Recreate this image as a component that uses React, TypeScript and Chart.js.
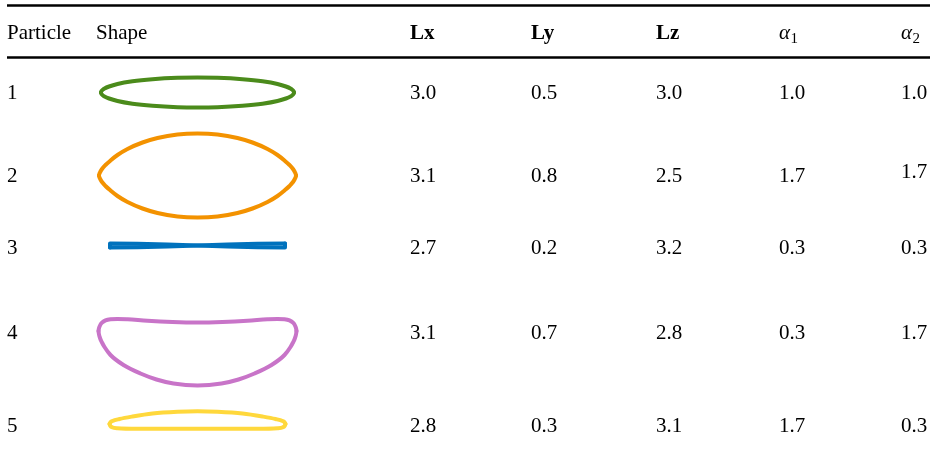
import React, { useEffect, useRef } from 'react';
import { Chart, registerables } from 'chart.js';

Chart.register(...registerables);

// ---------- table data ----------
const particles = ['1', '2', '3', '4', '5'];
const lxValues = [3.0, 3.1, 2.7, 3.1, 2.8];
const lyValues = [0.5, 0.8, 0.2, 0.7, 0.3];
const lzValues = [3.0, 2.5, 3.2, 2.8, 3.1];
const alpha1Values = [1.0, 1.7, 0.3, 0.3, 1.7];
const alpha2Values = [1.0, 1.7, 0.3, 1.7, 0.3];
const shapeColors = ['#4b8b1b', '#f39200', '#0072bd', '#c874c8', '#ffd83c'];

// ---------- shape outlines (offsets), upper and lower halves ----------
const shape1Upper = [[-96.5, 0], [-96.3, -1], [-95.6, -2], [-94.5, -3], [-93, -4], [-88.4, -6], [-80, -8.5], [-65, -11.2], [-45, -13.3], [-20, -14.7], [0, -15], [20, -14.7], [45, -13.3], [65, -11.2], [80, -8.5], [88.4, -6], [93, -4], [94.5, -3], [95.6, -2], [96.3, -1], [96.5, 0]];
const shape1Lower = [[-96.5, 0], [-96.3, 1], [-95.6, 2], [-94.5, 3], [-93, 4], [-88.4, 6], [-80, 8.5], [-65, 11.2], [-45, 13.3], [-20, 14.7], [0, 15], [20, 14.7], [45, 13.3], [65, 11.2], [80, 8.5], [88.4, 6], [93, 4], [94.5, 3], [95.6, 2], [96.3, 1], [96.5, 0]];

const shape2Upper = [[-98.5, 0], [-98.2, -1.5], [-97.3, -3.5], [-95.5, -6.5], [-92, -10.5], [-87, -15], [-80, -20.5], [-70, -26.5], [-55, -33], [-40, -37.5], [-20, -41], [0, -42], [20, -41], [40, -37.5], [55, -33], [70, -26.5], [80, -20.5], [87, -15], [92, -10.5], [95.5, -6.5], [97.3, -3.5], [98.2, -1.5], [98.5, 0]];
const shape2Lower = [[-98.5, 0], [-98.2, 1.5], [-97.3, 3.5], [-95.5, 6.5], [-92, 10.5], [-87, 15], [-80, 20.5], [-70, 26.5], [-55, 33], [-40, 37.5], [-20, 41], [0, 42], [20, 41], [40, 37.5], [55, 33], [70, 26.5], [80, 20.5], [87, 15], [92, 10.5], [95.5, 6.5], [97.3, 3.5], [98.2, 1.5], [98.5, 0]];

const shape3StrandA = [[-87.5, 2], [-87.5, -2], [-60, -1.8], [-30, -1.1], [0, 0], [30, 1.1], [60, 1.8], [87.5, 2], [87.5, -2]];
const shape3StrandB = [[87.5, -2], [60, -1.8], [30, -1.1], [0, 0], [-30, 1.1], [-60, 1.8], [-87.5, 2]];

const shape4Upper = [[-99, 0], [-98.6, -2.5], [-97.5, -5.5], [-95.5, -8.3], [-92, -10.6], [-87, -11.8], [-80, -12.1], [-70, -11.7], [-50, -10.2], [-25, -9], [0, -8.5], [25, -9], [50, -10.2], [70, -11.7], [80, -12.1], [87, -11.8], [92, -10.6], [95.5, -8.3], [97.5, -5.5], [98.6, -2.5], [99, 0]];
const shape4Lower = [[-99, 0], [-98.6, 3], [-97.5, 7], [-95.5, 11.5], [-93, 16], [-87, 24], [-74, 34], [-57, 42.5], [-41, 48.5], [-24, 52.5], [0, 54.5], [24, 52.5], [41, 48.5], [57, 42.5], [74, 34], [87, 24], [93, 16], [95.5, 11.5], [97.5, 7], [98.6, 3], [99, 0]];

const shape5Upper = [[-88, 0], [-87.2, -1.5], [-85, -3], [-78, -5], [-65, -7.5], [-45, -10.5], [-20, -12.2], [0, -12.7], [20, -12.2], [45, -10.5], [65, -7.5], [78, -5], [85, -3], [87.2, -1.5], [88, 0]];
const shape5Lower = [[-88, 0], [-87.2, 1.8], [-85.5, 3.2], [-80, 4.3], [-60, 4.8], [-30, 4.8], [0, 4.7], [30, 4.8], [60, 4.8], [80, 4.3], [85.5, 3.2], [87.2, 1.8], [88, 0]];

// ---------- layout (pixels) ----------
const W = 937;
const H = 461;
const colX = [7, 96, 410, 531, 656, 779, 901];
const headerBaseline = 39;
const rowBaselines = [99, 181.5, 254, 338.5, 432];
const shapeCenterX = 197.5;
const shapeCenterY = [92.5, 175.5, 245.5, 331, 424];
const ruleYs = [5.5, 57.5];
const ruleX0 = 7;
const ruleX1 = 930;
const FONT = '"Liberation Serif", "Times New Roman", serif';
const FONT_SIZE = 21;

const fmt = (v: number) => v.toFixed(1);

function App() {
  const ref = useRef<HTMLCanvasElement | null>(null);

  useEffect(() => {
    const canvas = ref.current;
    if (!canvas) return;

    const toPts = (arr: number[][], row: number) =>
      arr.map(([dx, dy]) => ({ x: shapeCenterX + dx, y: shapeCenterY[row] + dy }));

    const mk = (arr: number[][], row: number, mono: boolean) => ({
      data: toPts(arr, row),
      showLine: true,
      borderColor: shapeColors[row],
      backgroundColor: shapeColors[row],
      borderWidth: 4,
      pointRadius: 0,
      pointHoverRadius: 0,
      fill: false,
      borderCapStyle: 'round' as const,
      borderJoinStyle: 'round' as const,
      cubicInterpolationMode: mono ? ('monotone' as const) : ('default' as const),
      tension: 0,
    });

    const datasets = [
      mk(shape1Upper, 0, true),
      mk(shape1Lower, 0, true),
      mk(shape2Upper, 1, true),
      mk(shape2Lower, 1, true),
      mk(shape3StrandA, 2, false),
      mk(shape3StrandB, 2, false),
      mk(shape4Upper, 3, true),
      mk(shape4Lower, 3, true),
      mk(shape5Upper, 4, true),
      mk(shape5Lower, 4, true),
    ];

    const tablePlugin = {
      id: 'tableText',
      afterDatasetsDraw(chart: any) {
        const ctx = chart.ctx as CanvasRenderingContext2D;
        ctx.save();
        ctx.strokeStyle = '#000';
        ctx.lineWidth = 2.7;
        ruleYs.forEach((y) => {
          ctx.beginPath();
          ctx.moveTo(ruleX0, y);
          ctx.lineTo(ruleX1, y);
          ctx.stroke();
        });
        ctx.fillStyle = '#000';
        ctx.textBaseline = 'alphabetic';
        ctx.textAlign = 'left';
        ctx.font = `${FONT_SIZE}px ${FONT}`;
        ctx.fillText('Particle', colX[0], headerBaseline);
        ctx.fillText('Shape', colX[1], headerBaseline);
        ctx.font = `bold ${FONT_SIZE}px ${FONT}`;
        ctx.fillText('Lx', colX[2], headerBaseline);
        ctx.fillText('Ly', colX[3], headerBaseline);
        ctx.fillText('Lz', colX[4], headerBaseline);
        const drawAlpha = (x: number, sub: string) => {
          ctx.font = `italic ${FONT_SIZE}px ${FONT}`;
          ctx.fillText('α', x, headerBaseline);
          const w = ctx.measureText('α').width;
          ctx.font = `15px ${FONT}`;
          ctx.fillText(sub, x + w + 0.5, headerBaseline + 4);
        };
        drawAlpha(colX[5], '1');
        drawAlpha(colX[6], '2');
        ctx.font = `${FONT_SIZE}px ${FONT}`;
        particles.forEach((p, i) => {
          const y = rowBaselines[i];
          ctx.fillText(p, colX[0], y);
          ctx.fillText(fmt(lxValues[i]), colX[2], y);
          ctx.fillText(fmt(lyValues[i]), colX[3], y);
          ctx.fillText(fmt(lzValues[i]), colX[4], y);
          ctx.fillText(fmt(alpha1Values[i]), colX[5], y);
          ctx.fillText(fmt(alpha2Values[i]), colX[6], i === 1 ? y - 4 : y);
        });
        ctx.restore();
      },
    };

    const chart = new Chart(canvas, {
      type: 'scatter',
      data: { datasets: datasets as any },
      options: {
        animation: false,
        responsive: false,
        devicePixelRatio: 1,
        layout: { padding: 0 },
        events: [],
        plugins: {
          legend: { display: false },
          tooltip: { enabled: false },
          title: { display: false },
        },
        scales: {
          x: { type: 'linear', min: 0, max: W, display: false },
          y: { type: 'linear', min: 0, max: H, reverse: true, display: false },
        },
      },
      plugins: [tablePlugin],
    });

    return () => chart.destroy();
  }, []);

  return (
    <div style={{ position: 'absolute', left: 0, top: 0, width: W, height: H, background: '#fff' }}>
      <canvas ref={ref} width={W} height={H} style={{ width: W, height: H, display: 'block' }} />
    </div>
  );
}

export default App;
